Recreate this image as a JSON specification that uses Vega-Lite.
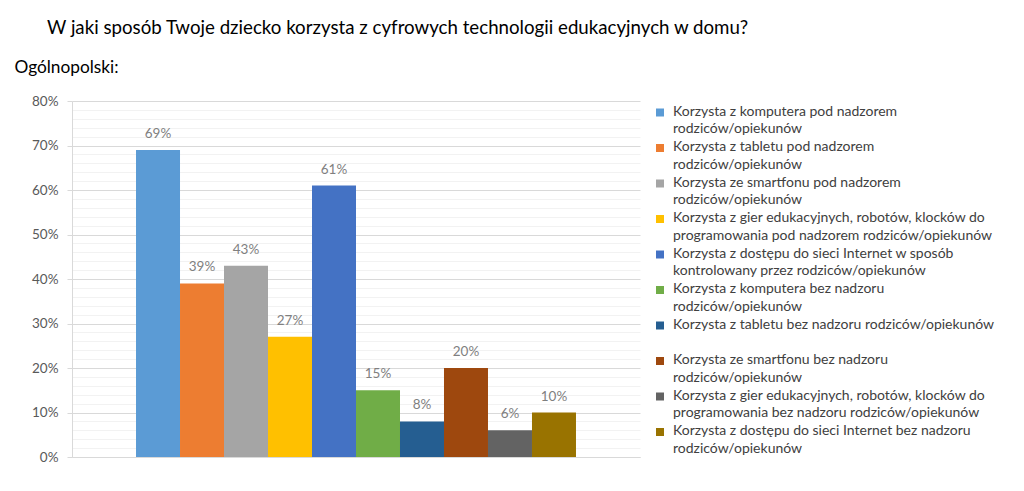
{
  "$schema": "https://vega.github.io/schema/vega-lite/v6.json",
  "width": 568,
  "height": 356,
  "autosize": {"type": "none"},
  "padding": {"left": 72, "top": 101, "right": 384, "bottom": 34},
  "background": "white",
  "title": {
    "text": "W jaki sposób Twoje dziecko korzysta z cyfrowych technologii edukacyjnych w domu?",
    "anchor": "start",
    "frame": "group",
    "dx": -25,
    "offset": 20,
    "font": "Lato",
    "fontSize": 18.7,
    "fontWeight": "normal",
    "color": "#000000"
  },
  "config": {
    "font": "Lato",
    "view": {"stroke": null}
  },
  "data": {
    "values": [
      {"grupa": "Ogólnopolski", "kolejnosc": 1, "seria": "Korzysta z komputera pod nadzorem|rodziców/opiekunów", "wartosc": 0.69},
      {"grupa": "Ogólnopolski", "kolejnosc": 2, "seria": "Korzysta z tabletu pod nadzorem|rodziców/opiekunów", "wartosc": 0.39},
      {"grupa": "Ogólnopolski", "kolejnosc": 3, "seria": "Korzysta ze smartfonu pod nadzorem|rodziców/opiekunów", "wartosc": 0.43},
      {"grupa": "Ogólnopolski", "kolejnosc": 4, "seria": "Korzysta z gier edukacyjnych, robotów, klocków do|programowania pod nadzorem rodziców/opiekunów", "wartosc": 0.27},
      {"grupa": "Ogólnopolski", "kolejnosc": 5, "seria": "Korzysta z dostępu do sieci Internet w sposób|kontrolowany przez rodziców/opiekunów", "wartosc": 0.61},
      {"grupa": "Ogólnopolski", "kolejnosc": 6, "seria": "Korzysta z komputera bez nadzoru|rodziców/opiekunów", "wartosc": 0.15},
      {"grupa": "Ogólnopolski", "kolejnosc": 7, "seria": "Korzysta z tabletu bez nadzoru rodziców/opiekunów| ", "wartosc": 0.08},
      {"grupa": "Ogólnopolski", "kolejnosc": 8, "seria": "Korzysta ze smartfonu bez nadzoru|rodziców/opiekunów", "wartosc": 0.20},
      {"grupa": "Ogólnopolski", "kolejnosc": 9, "seria": "Korzysta z gier edukacyjnych, robotów, klocków do|programowania bez nadzoru rodziców/opiekunów", "wartosc": 0.06},
      {"grupa": "Ogólnopolski", "kolejnosc": 10, "seria": "Korzysta z dostępu do sieci Internet bez nadzoru|rodziców/opiekunów", "wartosc": 0.10}
    ]
  },
  "encoding": {
    "x": {
      "field": "grupa",
      "type": "nominal",
      "scale": {"paddingInner": 0, "paddingOuter": 0.1455},
      "axis": {"labels": false, "ticks": false, "title": null, "domain": true, "domainColor": "#D9D9D9", "grid": false}
    },
    "xOffset": {
      "field": "seria",
      "type": "nominal",
      "sort": {"field": "kolejnosc"},
      "scale": {"paddingInner": 0, "paddingOuter": 0}
    },
    "y": {
      "field": "wartosc",
      "type": "quantitative",
      "scale": {"domain": [0, 0.8]},
      "axis": {
        "format": ".0%",
        "values": [0, 0.02, 0.04, 0.06, 0.08, 0.1, 0.12, 0.14, 0.16, 0.18, 0.2, 0.22, 0.24, 0.26, 0.28, 0.3, 0.32, 0.34, 0.36, 0.38, 0.4, 0.42, 0.44, 0.46, 0.48, 0.5, 0.52, 0.54, 0.56, 0.58, 0.6, 0.62, 0.64, 0.66, 0.68, 0.7, 0.72, 0.74, 0.76, 0.78, 0.8],
        "labelExpr": "round(datum.value * 100) % 10 == 0 ? datum.label : ''",
        "labelOverlap": false,
        "gridColor": {"condition": {"test": "round(datum.value * 100) % 10 == 0", "value": "#D9D9D9"}, "value": "#F2F2F2"},
        "tickColor": {"condition": {"test": "round(datum.value * 100) % 10 == 0", "value": "#D9D9D9"}, "value": "transparent"},
        "domainColor": "#D9D9D9",
        "tickSize": 5,
        "labelPadding": 9,
        "labelFontSize": 13.5,
        "labelColor": "#595959",
        "title": "Ogólnopolski:",
        "titleAngle": 0,
        "titleAlign": "left",
        "titleBaseline": "middle",
        "titleX": -58,
        "titleY": -34,
        "titleFontSize": 17.3,
        "titleFontWeight": "normal",
        "titleColor": "#000000"
      }
    }
  },
  "layer": [
    {
      "mark": {"type": "bar"},
      "encoding": {
        "color": {
          "field": "seria",
          "type": "nominal",
          "sort": {"field": "kolejnosc"},
          "scale": {
            "range": ["#5B9BD5", "#ED7D31", "#A5A5A5", "#FFC000", "#4472C4", "#70AD47", "#255E91", "#9E480E", "#636363", "#997300"]
          },
          "legend": {
            "title": null,
            "orient": "none",
            "legendX": 581,
            "legendY": 4.5,
            "padding": 0,
            "symbolType": "square",
            "symbolSize": 64,
            "symbolStrokeWidth": 0,
            "labelFontSize": 14,
            "labelColor": "#404040",
            "labelLimit": 400,
            "labelOffset": 6,
            "rowPadding": 3.5,
            "labelExpr": "split(datum.label, '|')",
            "encode": {
              "labels": {"update": {"lineHeight": {"value": 17.8}, "baseline": {"value": "top"}, "dy": {"value": -8}}}
            }
          }
        }
      }
    },
    {
      "mark": {"type": "text", "baseline": "bottom", "dy": -9, "fontSize": 13.5, "color": "#7F7F7F"},
      "encoding": {
        "text": {"field": "wartosc", "type": "quantitative", "format": ".0%"}
      }
    }
  ]
}
